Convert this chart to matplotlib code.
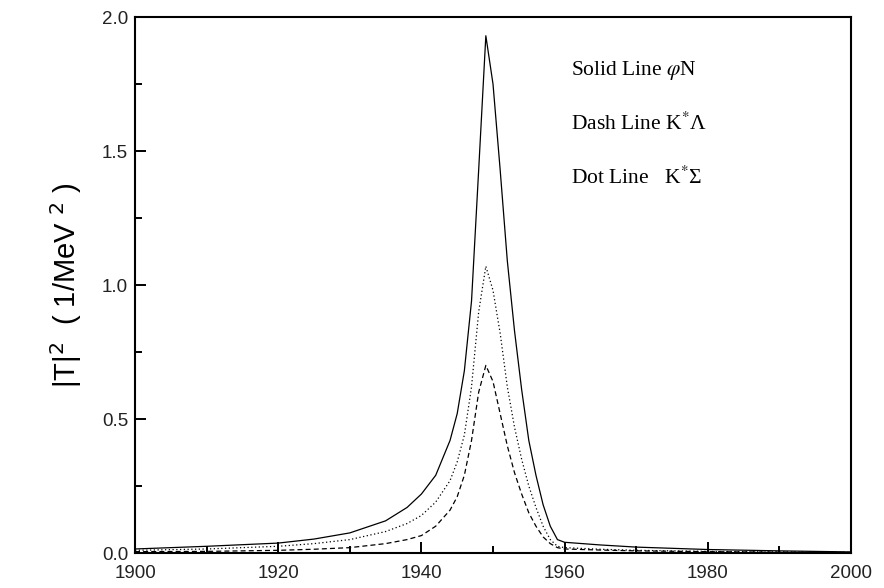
import matplotlib
matplotlib.use("Agg")

import matplotlib.pyplot as plt
from matplotlib.ticker import MultipleLocator, FormatStrFormatter

# ---------------------------------------------------------
# DATA
# ---------------------------------------------------------

energy = [1900, 1910, 1920, 1925, 1930, 1935, 1938, 1940, 1942, 1944, 1945,
          1946, 1947, 1948, 1949, 1950, 1951, 1952, 1953, 1954, 1955, 1956,
          1957, 1958, 1959, 1960, 1965, 1970, 1980, 1990, 2000]

t2_phiN = [0.015, 0.025, 0.037, 0.052, 0.075, 0.12, 0.17, 0.22, 0.29, 0.42,
           0.52, 0.68, 0.94, 1.43, 1.93, 1.75, 1.43, 1.09, 0.83, 0.61, 0.42,
           0.29, 0.18, 0.10, 0.05, 0.040, 0.030, 0.022, 0.013, 0.008, 0.004]

t2_kLambda = [0.005, 0.006, 0.010, 0.014, 0.020, 0.035, 0.050, 0.065, 0.10,
              0.16, 0.21, 0.29, 0.42, 0.60, 0.70, 0.64, 0.52, 0.40, 0.30,
              0.22, 0.15, 0.10, 0.06, 0.035, 0.02, 0.015, 0.011, 0.008,
              0.005, 0.003, 0.002]

t2_kSigma = [0.010, 0.015, 0.025, 0.035, 0.050, 0.08, 0.11, 0.14, 0.19,
             0.27, 0.34, 0.44, 0.62, 0.90, 1.07, 0.98, 0.82, 0.62, 0.47,
             0.35, 0.25, 0.17, 0.10, 0.05, 0.025, 0.020, 0.014, 0.010,
             0.006, 0.004, 0.002]

labels = [r"Solid Line $\varphi$N",
          r"Dash Line K$^{*}$Λ",
          r"Dot Line   K$^{*}$Σ"]

# ---------------------------------------------------------
# FIGURE
# ---------------------------------------------------------

fig = plt.figure(figsize=(8.84, 5.88), dpi=100)
ax = fig.add_axes([135 / 884, 1 - 553 / 588, 716 / 884, 536 / 588])

ax.plot(energy, t2_phiN, color="black", lw=0.9, linestyle="-")
ax.plot(energy, t2_kLambda, color="black", lw=0.9, linestyle=(0, (4, 2.5)))
ax.plot(energy, t2_kSigma, color="black", lw=0.9, linestyle=(0, (1, 2)))

ax.set_xlim(1900, 2000)
ax.set_ylim(0.0, 2.0)

ax.xaxis.set_major_locator(MultipleLocator(20))
ax.xaxis.set_minor_locator(MultipleLocator(10))
ax.yaxis.set_major_locator(MultipleLocator(0.5))
ax.yaxis.set_minor_locator(MultipleLocator(0.25))
ax.yaxis.set_major_formatter(FormatStrFormatter("%.1f"))

ax.tick_params(which="both", direction="in", top=False, right=False,
               width=1.4, labelsize=13.5, labelcolor="#222222")
ax.tick_params(which="major", length=8)
ax.tick_params(which="minor", length=5)
ax.tick_params(axis="y", which="major", pad=5)
ax.tick_params(axis="x", which="major", pad=9)
for lbl in ax.get_xticklabels() + ax.get_yticklabels():
    lbl.set_fontfamily("Liberation Sans")

for sp in ax.spines.values():
    sp.set_linewidth(1.5)

# y label placed by hand (figure fraction)
fig.text(66 / 884, 1 - 285 / 588, r"|T|$^2$  ( 1/MeV $^2$ )",
         rotation=90, ha="center", va="center", fontsize=21,
         family="Liberation Sans", math_fontfamily="dejavusans")

# legend text block
for i, txt in enumerate(labels):
    ax.text(0.609, 0.901 - i * 0.100, txt, transform=ax.transAxes,
            fontsize=15.5, family="Liberation Serif", math_fontfamily="stix",
            ha="left", va="center")

fig.savefig("out.png", dpi=100)
